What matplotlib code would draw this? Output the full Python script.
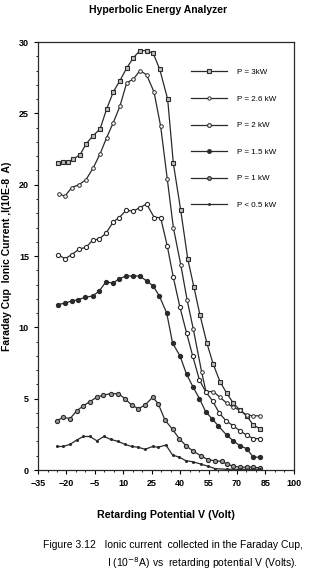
import matplotlib.pyplot as plt
from matplotlib.ticker import MultipleLocator

plt.rcParams['font.family'] = ['Liberation Sans', 'DejaVu Sans']

# Lecturas del gráfico: tensión de frenado (V) y corriente (10E-8 A)
v_3kw = [-24.3, -21.7, -19.0, -16.4, -12.8, -9.7, -6.2, -2.3, 1.2, 4.7, 8.2, 11.9, 15.3,
         18.8, 22.3, 25.8, 29.2, 33.4, 36.4, 40.3, 44.0, 47.3, 50.4, 54.1, 57.5, 61.0,
         64.5, 68.0, 71.5, 75.1, 78.6, 82.1]
i_3kw = [21.5, 21.6, 21.6, 21.8, 22.1, 22.85, 23.4, 23.9, 25.3, 26.5, 27.3, 28.2, 28.9,
         29.4, 29.4, 29.2, 28.1, 26.0, 21.5, 18.2, 14.8, 12.8, 10.9, 8.9, 7.4, 6.2,
         5.4, 4.7, 4.2, 3.8, 3.15, 2.9]

v_26kw = [-23.8, -20.8, -17.2, -13.4, -9.7, -5.8, -2.3, 1.2, 4.7, 8.2, 11.8, 15.3, 18.8,
          22.3, 26.2, 29.7, 33.2, 36.4, 40.3, 43.7, 46.9, 51.3, 53.6, 57.5, 61.0, 64.5,
          68.0, 71.5, 75.1, 78.6, 82.1]
i_26kw = [19.35, 19.2, 19.8, 20.0, 20.35, 21.2, 22.15, 23.3, 24.35, 25.5, 27.15, 27.4, 28.0,
          27.7, 26.5, 24.1, 20.4, 17.0, 14.4, 11.9, 9.9, 6.9, 5.5, 5.5, 5.1, 4.7,
          4.4, 4.2, 3.85, 3.8, 3.8]

v_2kw = [-24.3, -20.8, -17.2, -13.2, -9.8, -6.2, -2.7, 0.9, 4.7, 7.9, 11.4, 15.3, 18.8,
         22.3, 26.3, 29.7, 33.2, 36.4, 39.9, 43.4, 46.6, 50.2, 53.4, 57.1, 60.6, 64.2,
         68.0, 71.5, 75.1, 78.6, 82.1]
i_2kw = [15.1, 14.8, 15.1, 15.5, 15.6, 16.1, 16.2, 16.6, 17.4, 17.7, 18.2, 18.15, 18.4,
         18.65, 17.7, 17.7, 15.7, 13.5, 11.4, 9.6, 8.0, 6.3, 5.5, 4.85, 4.0, 3.45,
         3.1, 2.75, 2.45, 2.2, 2.2]

v_15kw = [-24.3, -20.8, -17.2, -13.7, -10.2, -6.2, -2.7, 0.9, 4.4, 7.9, 11.4, 15.3, 18.8,
          22.3, 25.8, 29.0, 32.9, 36.0, 39.9, 43.4, 46.9, 50.2, 53.4, 56.8, 60.1, 64.5,
          68.0, 71.5, 75.1, 78.6, 82.1]
i_15kw = [11.6, 11.7, 11.85, 11.95, 12.1, 12.2, 12.55, 13.2, 13.1, 13.4, 13.6, 13.6, 13.6,
          13.25, 12.9, 12.2, 11.0, 8.9, 8.0, 6.7, 5.8, 5.0, 4.1, 3.6, 3.1, 2.45,
          2.05, 1.7, 1.5, 0.9, 0.9]

v_1kw = [-25.1, -21.7, -18.1, -14.6, -11.1, -7.6, -4.0, -0.6, 3.3, 7.4, 10.9, 14.4, 17.9,
         21.4, 25.5, 28.4, 32.0, 36.0, 39.5, 43.1, 46.6, 50.8, 54.8, 58.4, 61.9, 64.8,
         68.0, 71.5, 75.1, 78.6, 82.1]
i_1kw = [3.45, 3.7, 3.6, 4.15, 4.5, 4.8, 5.1, 5.25, 5.35, 5.35, 5.0, 4.55, 4.3,
         4.55, 5.1, 4.65, 3.5, 2.85, 2.2, 1.7, 1.35, 1.0, 0.72, 0.65, 0.6, 0.42,
         0.26, 0.2, 0.2, 0.2, 0.15]

v_05kw = [-25.1, -21.7, -18.1, -14.6, -11.1, -7.6, -4.0, -0.2, 3.3, 7.4, 10.9, 14.4, 17.9,
          21.4, 25.5, 28.4, 32.5, 36.0, 39.5, 43.1, 46.6, 50.8, 54.8, 58.4, 64.5, 71.5,
          78.6, 82.1]
i_05kw = [1.65, 1.65, 1.8, 2.1, 2.35, 2.35, 2.05, 2.35, 2.15, 2.0, 1.8, 1.65, 1.6,
          1.45, 1.65, 1.6, 1.75, 1.05, 0.9, 0.65, 0.58, 0.42, 0.26, 0.1, 0.05, 0.05,
          0.05, 0.05]

labels = ["P = 3kW", "P = 2.6 kW", "P = 2 kW", "P = 1.5 kW", "P = 1 kW", "P < 0.5 kW"]
x_ticks = [-35, -20, -5, 10, 25, 40, 55, 70, 85, 100]

fig = plt.figure(figsize=(3.17, 5.76), dpi=100)
ax = fig.add_axes([0.12, 0.184, 0.807, 0.743])

c = "#2a2a2a"
ax.plot(v_3kw, i_3kw, color=c, lw=0.9, marker="s", ms=3.2, mfc="#bdbdbd", mec=c, mew=0.8, label=labels[0])
ax.plot(v_26kw, i_26kw, color=c, lw=0.9, marker="o", ms=2.6, mfc="white", mec=c, mew=0.7, label=labels[1])
ax.plot(v_2kw, i_2kw, color=c, lw=0.9, marker="o", ms=3.0, mfc="white", mec=c, mew=0.8, label=labels[2])
ax.plot(v_15kw, i_15kw, color=c, lw=0.9, marker="o", ms=2.8, mfc=c, mec=c, label=labels[3])
ax.plot(v_1kw, i_1kw, color=c, lw=0.9, marker="o", ms=3.0, mfc="#9a9a9a", mec=c, mew=0.8, label=labels[4])
ax.plot(v_05kw, i_05kw, color=c, lw=0.9, marker="o", ms=1.2, mfc=c, mec=c, label=labels[5])

ax.set_xlim(-35, 100)
ax.set_ylim(0, 30)
ax.set_xticks(x_ticks)
ax.xaxis.set_minor_locator(MultipleLocator(5))
ax.yaxis.set_major_locator(MultipleLocator(5))
ax.yaxis.set_minor_locator(MultipleLocator(1))
ax.tick_params(which="major", length=3, width=0.8, labelsize=6.5)
ax.tick_params(which="minor", length=1.5, width=0.6)
for t in ax.get_xticklabels() + ax.get_yticklabels():
    t.set_fontweight("bold")
for s in ax.spines.values():
    s.set_linewidth(0.9)
    s.set_color(c)

ax.set_ylabel("Faraday Cup  Ionic Current ,I(10E-8  A)", fontsize=7.5, fontweight="bold", labelpad=5)
ax.set_xlabel("Retarding Potential V (Volt)", fontsize=7.7, fontweight="bold", labelpad=16)
fig.text(0.5, 0.983, "Hyperbolic Energy Analyzer", ha="center", va="center", fontsize=7.5, fontweight="bold")

ax.legend(loc="upper right", bbox_to_anchor=(0.96, 0.955), frameon=False, fontsize=5.8,
          handlelength=4.5, labelspacing=2.35, handletextpad=1.2, markerscale=0.9)

fig.text(0.135, 0.053, "Figure 3.12   Ionic current  collected in the Faraday Cup,", fontsize=7.5, va="center")
fig.text(0.338, 0.022, "I (10$^{-8}$A) vs  retarding potential V (Volts).", fontsize=7.5, va="center")

fig.savefig("out.png", dpi=100)
